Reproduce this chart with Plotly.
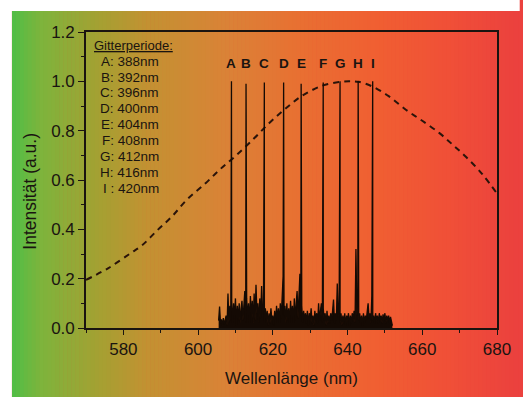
import numpy as np
import plotly.graph_objects as go

# ---------------- data ----------------
# dashed reference curve (wavelength nm, intensity)
curve_x = [570, 576, 582, 585, 589, 593, 597, 602, 606, 610, 615, 619, 623, 627.5,
           633, 638, 641, 643, 646.5, 651, 655.7, 660, 664.6, 668, 671.6, 676, 680]
curve_y = [0.195, 0.243, 0.304, 0.335, 0.395, 0.452, 0.52, 0.587, 0.645, 0.697, 0.769,
           0.83, 0.884, 0.938, 0.981, 0.998, 1.0, 0.998, 0.98, 0.94, 0.884, 0.84, 0.79,
           0.745, 0.695, 0.625, 0.545]

# measured spectrum: noise floor sampled every 0.25 nm from 605.5 nm to 652.0 nm
noise_start = 605.5
noise_step = 0.25
noise_y = [
    0.03, 0.087, 0.02,
    0.035, 0.01, 0.04, 0.015, 0.03, 0.05, 0.01,
    0.14, 0.02, 0.09, 0.03,
    0.11, 0.02, 0.1, 0.04, 0.12, 0.01, 0.09, 0.03,
    0.1, 0.02, 0.08, 0.11, 0.03, 0.09, 0.15, 0.02,
    0.12, 0.04, 0.1, 0.02, 0.13, 0.05, 0.11, 0.02,
    0.14, 0.03, 0.175, 0.06, 0.1, 0.02, 0.12, 0.04,
    0.17, 0.05, 0.09, 0.02, 0.08, 0.03, 0.07, 0.01,
    0.06, 0.02, 0.08, 0.03, 0.05, 0.01, 0.07, 0.02,
    0.09, 0.03, 0.08, 0.02, 0.1, 0.04, 0.14, 0.21,
    0.05, 0.09, 0.02, 0.1, 0.03, 0.08, 0.02, 0.11,
    0.04, 0.09, 0.02, 0.12, 0.03, 0.1, 0.15, 0.04,
    0.17, 0.22, 0.05, 0.09, 0.02, 0.07, 0.03, 0.06,
    0.02, 0.07, 0.01, 0.06, 0.03, 0.08, 0.02, 0.05,
    0.01, 0.07, 0.03, 0.06, 0.02, 0.1, 0.03, 0.07,
    0.1, 0.02, 0.08, 0.03, 0.06, 0.01, 0.07, 0.02,
    0.05, 0.02, 0.06, 0.03, 0.07, 0.115, 0.02, 0.06,
    0.03, 0.18, 0.05, 0.07, 0.02, 0.06, 0.01, 0.05,
    0.02, 0.06, 0.01, 0.05, 0.03, 0.06, 0.01, 0.05,
    0.02, 0.06, 0.03, 0.07, 0.02, 0.32, 0.05, 0.12,
    0.03, 0.06, 0.02, 0.05, 0.01, 0.06, 0.02, 0.05,
    0.03, 0.07, 0.1, 0.04, 0.06, 0.02, 0.13, 0.03,
    0.05, 0.02, 0.06, 0.03, 0.05, 0.02, 0.06, 0.03,
    0.05, 0.02, 0.055, 0.03, 0.06, 0.02, 0.05, 0.03,
    0.05, 0.02, 0.045, 0.03, 0.01,
]

# laser peaks
peak_labels = ["A", "B", "C", "D", "E", "F", "G", "H", "I"]
peak_x = [608.93, 612.83, 617.73, 622.89, 627.58, 633.49, 637.99, 642.84, 646.73]
peak_y = [1.0, 0.99, 0.995, 0.995, 0.99, 0.995, 1.0, 1.0, 1.0]

# grating periods
periods = ["388nm", "392nm", "396nm", "400nm", "404nm", "408nm", "412nm", "416nm", "420nm"]

x_ticks = [580, 600, 620, 640, 660, 680]
y_ticks = [0.0, 0.2, 0.4, 0.6, 0.8, 1.0, 1.2]

# ---------------- build spectrum ----------------
noise_x = [noise_start + i * noise_step for i in range(len(noise_y))]
pts = list(zip(noise_x, noise_y)) + list(zip(peak_x, peak_y))
pts.sort(key=lambda p: p[0])
spec_x = [p[0] for p in pts]
spec_y = [p[1] for p in pts]

TXT = "#1a1410"
FONT = "Liberation Sans, Arial, sans-serif"

fig = go.Figure()
fig.add_trace(go.Scatter(x=curve_x, y=curve_y, mode="lines", line_shape="spline",
                         line=dict(color="#2a140a", width=2, dash="6px,5px"),
                         hoverinfo="skip", showlegend=False))
fig.add_trace(go.Scatter(x=spec_x, y=spec_y, mode="lines", fill="tozeroy",
                         fillcolor="#140a04",
                         line=dict(color="#140a04", width=1.3),
                         hoverinfo="skip", showlegend=False))

W, H = 523, 397
ml, mr, mt, mb = 86, 21, 32, 69
pw, ph = W - ml - mr, H - mt - mb


def px2paper_x(px):
    return (px - ml) / pw


def py2paper_y(py):
    return (H - mb - py) / ph


# ---------------- background gradient (vertical strips) ----------------
stop_pos = [0.0, 0.057, 0.174, 0.27, 0.426, 0.564, 0.72, 0.86, 1.0]
stop_rgb = [(80, 190, 70), (125, 180, 60), (165, 160, 50), (195, 145, 50), (218, 130, 55),
            (232, 112, 50), (240, 95, 50), (240, 80, 55), (235, 65, 62)]
n_strips = 128
bg_left, bg_right, bg_top, bg_bottom = 11, W, 11, H
shapes = []
for k in range(n_strips):
    t = (k + 0.5) / n_strips
    rgb = [int(round(np.interp(t, stop_pos, [c[j] for c in stop_rgb]))) for j in range(3)]
    x0 = bg_left + (bg_right - bg_left) * k / n_strips
    x1 = bg_left + (bg_right - bg_left) * (k + 1) / n_strips + 0.6
    shapes.append(dict(type="rect", xref="paper", yref="paper", layer="below",
                       x0=px2paper_x(x0), x1=px2paper_x(min(x1, W + 2)),
                       y0=py2paper_y(bg_bottom + 2), y1=py2paper_y(bg_top),
                       fillcolor=f"rgb({rgb[0]},{rgb[1]},{rgb[2]})", line=dict(width=0)))
# white frame strips at top and left (page border of the original figure)
shapes.append(dict(type="rect", xref="paper", yref="paper", layer="below",
                   x0=px2paper_x(-2), x1=px2paper_x(W + 2), y0=py2paper_y(bg_top), y1=py2paper_y(-2),
                   fillcolor="white", line=dict(width=0)))
shapes.append(dict(type="rect", xref="paper", yref="paper", layer="below",
                   x0=px2paper_x(-2), x1=px2paper_x(bg_left), y0=py2paper_y(H + 2), y1=py2paper_y(-2),
                   fillcolor="white", line=dict(width=0)))

# ---------------- annotations ----------------
ann = []
for lab, px_, py_ in zip(peak_labels, peak_x, peak_y):
    ann.append(dict(x=px_, y=1.074, xref="x", yref="y", text=f"<b>{lab}</b>", showarrow=False,
                    font=dict(family=FONT, size=13.5, color=TXT), xanchor="center", yanchor="middle"))

ann.append(dict(x=571.5, y=1.147, xref="x", yref="y", text="Gitterperiode:", showarrow=False,
                font=dict(family=FONT, size=13, color=TXT, lineposition="under"),
                xanchor="left", yanchor="middle"))
for i, (lab, per) in enumerate(zip(peak_labels, periods)):
    sep = " : " if lab == "I" else ": "
    ann.append(dict(x=590.1, y=1.082 - i * 0.0645, xref="x", yref="y", text=f"{lab}{sep}{per}",
                    showarrow=False, font=dict(family=FONT, size=13.5, color=TXT),
                    xanchor="right", yanchor="middle"))

ann.append(dict(x=0.5, y=py2paper_y(378), xref="paper", yref="paper", text="Wellenlänge (nm)",
                showarrow=False, font=dict(family=FONT, size=17, color=TXT),
                xanchor="center", yanchor="middle"))
ann.append(dict(x=px2paper_x(29), y=py2paper_y(191), xref="paper", yref="paper",
                text="Intensität (a.u.)", textangle=-90, showarrow=False,
                font=dict(family=FONT, size=17.5, color=TXT), xanchor="center", yanchor="middle"))

axis_common = dict(showgrid=False, zeroline=False, showline=True, mirror=True,
                   linecolor=TXT, linewidth=1.6, ticks="outside", tickcolor=TXT,
                   tickwidth=1.4, tickfont=dict(family=FONT, size=17, color=TXT))

fig.update_xaxes(range=[570, 680], tickvals=x_ticks, ticklen=5,
                 minor=dict(ticks="outside", dtick=10, tick0=570, ticklen=3, tickcolor=TXT, tickwidth=1.2),
                 **axis_common)
fig.update_yaxes(range=[0, 1.2], tickvals=y_ticks, tickformat=".1f", ticklen=6,
                 minor=dict(ticks="outside", dtick=0.1, tick0=0, ticklen=3, tickcolor=TXT, tickwidth=1.2),
                 **axis_common)

fig.update_layout(width=W, height=H, margin=dict(l=ml, r=mr, t=mt, b=mb, pad=0),
                  paper_bgcolor="rgb(235,65,62)", plot_bgcolor="rgba(0,0,0,0)",
                  showlegend=False, annotations=ann, shapes=shapes)

fig.write_html("out.html", config={"displayModeBar": False},
               post_script="document.body.style.margin='0';document.body.style.overflow='hidden';")
